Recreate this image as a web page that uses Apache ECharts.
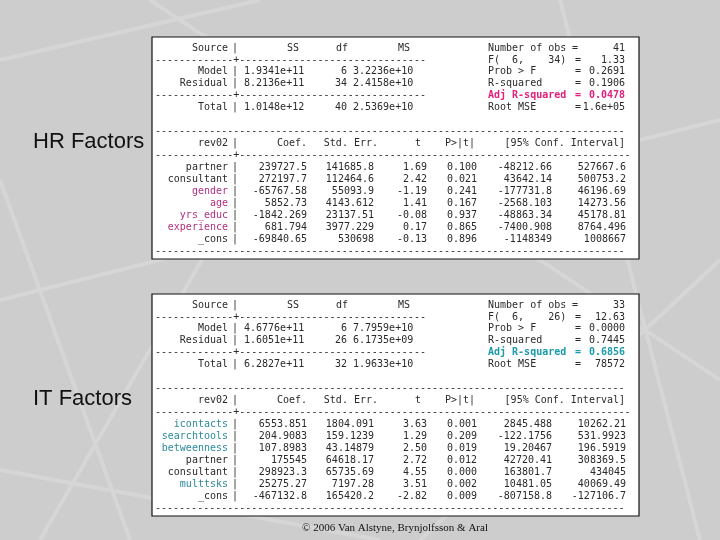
<!DOCTYPE html>
<html>
<head>
<meta charset="utf-8">
<script src="https://cdn.jsdelivr.net/npm/echarts@6/dist/echarts.min.js"></script>
<style>html,body{margin:0;padding:0;background:#cdcdcd}#main{width:720px;height:540px}</style>
</head>
<body>
<div id="main"></div>
<script>
// 两个回归结果表
const panelLabels = ['HR Factors', 'IT Factors'];
const footerText = '\u00a9 2006 Van Alstyne, Brynjolfsson & Aral';

const anovaSources = ['Model', 'Residual', 'Total'];
const hrSS = ['1.9341e+11', '8.2136e+11', '1.0148e+12'];
const hrDf = ['6', '34', '40'];
const hrMS = ['3.2236e+10', '2.4158e+10', '2.5369e+10'];
const itSS = ['4.6776e+11', '1.6051e+11', '6.2827e+11'];
const itDf = ['6', '26', '32'];
const itMS = ['7.7959e+10', '6.1735e+09', '1.9633e+10'];

const statLabels = ['Number of obs', 'F(  6,    34)', 'Prob > F', 'R-squared', 'Adj R-squared', 'Root MSE'];
const itStatLabels = ['Number of obs', 'F(  6,    26)', 'Prob > F', 'R-squared', 'Adj R-squared', 'Root MSE'];
const hrStats = ['41', '1.33', '0.2691', '0.1906', '0.0478', '1.6e+05'];
const itStats = ['33', '12.63', '0.0000', '0.7445', '0.6856', '78572'];

const coefHeaders = ['Coef.', 'Std. Err.', 't', 'P>|t|', '[95% Conf. Interval]'];
const hrVars = ['partner', 'consultant', 'gender', 'age', 'yrs_educ', 'experience', '_cons'];
const hrHighlight = [false, false, true, true, true, true, false];
const hrCoef = ['239727.5', '272197.7', '-65767.58', '5852.73', '-1842.269', '681.794', '-69840.65'];
const hrSE = ['141685.8', '112464.6', '55093.9', '4143.612', '23137.51', '3977.229', '530698'];
const hrT = ['1.69', '2.42', '-1.19', '1.41', '-0.08', '0.17', '-0.13'];
const hrP = ['0.100', '0.021', '0.241', '0.167', '0.937', '0.865', '0.896'];
const hrLo = ['-48212.66', '43642.14', '-177731.8', '-2568.103', '-48863.34', '-7400.908', '-1148349'];
const hrHi = ['527667.6', '500753.2', '46196.69', '14273.56', '45178.81', '8764.496', '1008667'];

const itVars = ['icontacts', 'searchtools', 'betweenness', 'partner', 'consultant', 'multtsks', '_cons'];
const itHighlight = [true, true, true, false, false, true, false];
const itCoef = ['6553.851', '204.9083', '107.8983', '175545', '298923.3', '25275.27', '-467132.8'];
const itSE = ['1804.091', '159.1239', '43.14879', '64618.17', '65735.69', '7197.28', '165420.2'];
const itT = ['3.63', '1.29', '2.50', '2.72', '4.55', '3.51', '-2.82'];
const itP = ['0.001', '0.209', '0.019', '0.012', '0.000', '0.002', '0.009'];
const itLo = ['2845.488', '-122.1756', '19.20467', '42720.41', '163801.7', '10481.05', '-807158.8'];
const itHi = ['10262.21', '531.9923', '196.5919', '308369.5', '434045', '40069.49', '-127106.7'];

(function () {
    const chart = echarts.init(document.getElementById('main'));
    const MONO = '10px "DejaVu Sans Mono", monospace';
    const INK = '#2a2a2a';
    const els = [];

    function txt(s, x, y, opt) {
        opt = opt || {};
        els.push({
            type: 'text', x: x, y: y, z: 10,
            style: {
                text: s, fill: opt.fill || INK, font: opt.font || MONO,
                align: opt.align || 'left', verticalAlign: 'middle'
            }
        });
    }
    // 分隔线：13个横线 + '+' + 其余横线
    function dashes(y, right) {
        const n2 = Math.round((right - 155) / 6) - 14;
        txt('-'.repeat(13) + '+' + '-'.repeat(n2), 155, y);
    }

    // 背景纹理
    const bgLines = [[0, 60, 260, 0], [40, 540, 300, 90], [150, 0, 720, 380], [0, 300, 720, 120],
        [420, 540, 720, 260], [0, 470, 380, 540], [560, 0, 700, 540], [0, 180, 130, 540]];
    bgLines.forEach(l => els.push({ type: 'line', z: 1, shape: { x1: l[0], y1: l[1], x2: l[2], y2: l[3] },
        style: { stroke: '#d6d6d6', lineWidth: 4 } }));

    function panel(top, label, ss, df, ms, sLabels, stats, vars, hl, coef, se, t, p, lo, hi, hlColor, adjColor) {
        els.push({ type: 'rect', z: 5, shape: { x: 152, y: top, width: 487, height: 222 },
            style: { fill: '#fff', stroke: '#111', lineWidth: 1.2 } });
        const row = k => top + 11 + k * 11.95;
        txt('Source', 228, row(0), { align: 'right' });
        txt('|', 232, row(0));
        txt('SS', 293, row(0), { align: 'center' });
        txt('df', 342, row(0), { align: 'center' });
        txt('MS', 404, row(0), { align: 'center' });
        dashes(row(1), 425);
        [2, 3, 5].forEach((k, i) => {
            txt(anovaSources[i], 228, row(k), { align: 'right' });
            txt('|', 232, row(k));
            txt(ss[i], 244, row(k));
            txt(df[i], 347, row(k), { align: 'right' });
            txt(ms[i], 353, row(k));
        });
        dashes(row(4), 425);
        sLabels.forEach((s, i) => {
            const adj = i === 4;
            const o = adj ? { fill: adjColor, font: 'bold ' + MONO } : {};
            txt(s, 488, row(i), o);
            txt('=', i === 0 ? 575 : 578, row(i), Object.assign({ align: 'center' }, o));
            txt(stats[i], 625, row(i), Object.assign({ align: 'right' }, o));
        });
        txt('-'.repeat(78), 155, row(7));
        txt('rev02', 228, row(8), { align: 'right' });
        txt('|', 232, row(8));
        const hx = [307, 378, 421, 475, 625];
        coefHeaders.forEach((h, i) => txt(h, hx[i], row(8), { align: 'right' }));
        dashes(row(9), 626);
        vars.forEach((v, i) => {
            const y = row(10 + i);
            txt(v, 228, y, { align: 'right', fill: hl[i] ? hlColor : INK });
            txt('|', 232, y);
            txt(coef[i], 307, y, { align: 'right' });
            txt(se[i], 374, y, { align: 'right' });
            txt(t[i], 427, y, { align: 'right' });
            txt(p[i], 477, y, { align: 'right' });
            txt(lo[i], 552, y, { align: 'right' });
            txt(hi[i], 626, y, { align: 'right' });
        });
        txt('-'.repeat(78), 155, row(17));
        txt(label, 33, top + 105, { font: '22px "Liberation Sans", Arial, sans-serif', fill: '#111' });
    }

    panel(37, panelLabels[0], hrSS, hrDf, hrMS, statLabels, hrStats, hrVars, hrHighlight,
        hrCoef, hrSE, hrT, hrP, hrLo, hrHi, '#b03080', '#e0207a');
    panel(294, panelLabels[1], itSS, itDf, itMS, itStatLabels, itStats, itVars, itHighlight,
        itCoef, itSE, itT, itP, itLo, itHi, '#2a8a9a', '#1a9aaa');

    txt(footerText, 395, 528, { align: 'center', font: '11px "Liberation Serif", "Times New Roman", serif', fill: '#111' });

    chart.setOption({ backgroundColor: '#cdcdcd', animation: false, graphic: { elements: els } });
})();
</script>
</body>
</html>
